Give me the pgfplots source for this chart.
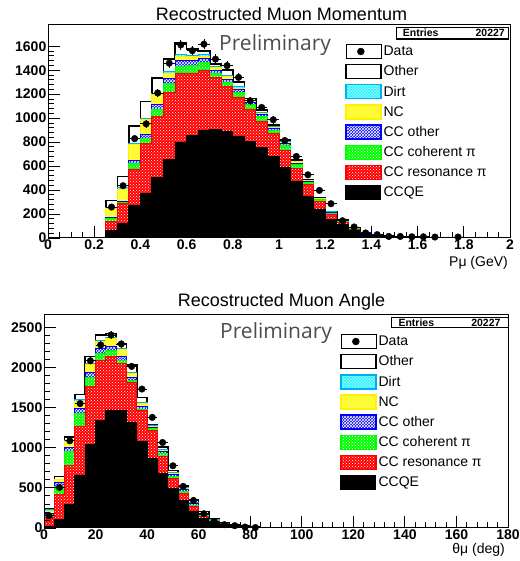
\documentclass[border=0pt]{standalone}
\usepackage{fontspec}
\setmainfont{Liberation Sans}
\newfontfamily\prelimfont{Open Sans}
\usepackage{pgfplots}
\pgfplotsset{compat=1.18}
\usepackage{pgfplotstable}
\usetikzlibrary{patterns}

% components per bin (left bin edge), momentum
\pgfplotstableread{
x    q   r   g   b   n   d   o
0.25 61  77  22  12  72  14  55
0.30 117 169 12  10  100 14  91
0.35 269 306 50  22  131 12  146
0.40 375 415 40  30  130 10  138
0.45 508 506 55  42  84  10  128
0.50 658 552 82  41  42  10  107
0.55 800 569 62  46  37  13  98
0.60 855 514 70  38  33  10  58
0.65 895 502 63  35  20  15  30
0.70 905 437 28  30  20  10  20
0.75 885 375 40  20  25  10  45
0.80 847 323 45  20  15  10  40
0.85 805 270 35  20  15  5   15
0.90 755 217 38  20  10  5   24
0.95 680 189 31  15  10  5   14
1.00 590 140 40  20  10  5   14
1.05 472 111 27  15  10  5   10
1.10 347 97  21  10  5   2   4
1.15 236 69  13  7   3   2   3
1.20 153 41  11  7   4   2   4
1.25 111 19  8   6   4   2   3
1.30 62  10  4   4   2   1   2
1.35 33  5   2   2   1   1   1
1.40 18  3   1   1   1   0   1
1.45 10  2   1   0   1   0   1
1.50 6   1   1   0   0   1   0
1.55 4   1   0   0   1   0   0
1.60 3   0   0   1   0   0   0
1.65 2   0   0   1   0   0   0
1.70 1   0   0   1   0   0   0
1.75 1   0   0   0   0   0   0
1.80 0   0   0   0   0   0   0
}\momtab
\pgfplotstableread{
x     d    e
0.275 258  16
0.325 436  21
0.375 829  29
0.425 952  31
0.475 1210 35
0.525 1458 38
0.575 1611 40
0.625 1563 40
0.675 1617 40
0.725 1492 39
0.775 1438 38
0.825 1340 37
0.875 1145 34
0.925 1089 33
0.975 986  31
1.025 813  29
1.075 680  26
1.125 527  23
1.175 397  20
1.225 286  17
1.275 144  12
1.325 92   10
1.375 42   6
1.425 28   5
1.475 13   4
1.525 13   4
1.575 10   3
1.625 10   3
1.675 8    3
1.775 8    3
}\momdata

% components per bin (left bin edge), angle
\pgfplotstableread{
x  q    r   g   b  n   d  o
0  15   115 30  20 26  19 11
4  103  311 104 45 37  10 32
8  298  477 178 47 77  13 42
12 650  615 165 60 90  15 67
16 1036 722 115 67 100 15 79
20 1340 747 89  63 82  14 69
24 1460 674 71  54 104 12 50
28 1460 588 33  53 84  12 70
32 1310 497 25  41 55  12 91
36 1077 388 15  32 43  10 59
40 862  358 20  15 15  10 10
44 684  207 34  28 12  10 33
48 489  124 27  23 17  10 27
52 344  91  20  21 14  10 26
56 207  62  16  17 8   10 32
60 116  28  8   10 8   10 27
64 70   15  3   4  3   5  10
68 45   7   2   2  2   2  6
72 25   5   2   1  1   1  3
76 15   3   1   0  1   0  2
80 8    2   0   1  0   0  1
84 4    1   0   1  0   0  1
88 2    1   0   0  0   0  1
92 1    0   0   1  0   0  0
96 0    0   0   0  0   0  0
}\angtab
\pgfplotstableread{
x  d    e
2  153  12
6  505  22
10 1086 33
14 1550 39
18 2083 46
22 2280 48
26 2404 49
30 2292 48
34 2013 45
38 1731 42
42 1378 37
46 1065 33
50 775  28
54 518  23
58 343  19
62 178  13
66 83   9
70 41   6
74 29   5
78 12   3
82 6    2
}\angdata

\tikzset{
  othst/.style={draw=black, fill=white, line width=1.6pt},
  dirtst/.style={draw=cyan, line width=1pt, fill=cyan!25!white, postaction={pattern=crosshatch, pattern color=cyan}},
  ncst/.style={draw=yellow, line width=1pt, fill=yellow!55!white, postaction={pattern=crosshatch, pattern color=yellow}},
  ccost/.style={draw=blue, line width=1pt, fill=blue, postaction={pattern=crosshatch, pattern color=white}},
  cohst/.style={draw=green, line width=1pt, fill=green, postaction={pattern=crosshatch dots, pattern color=white}},
  resst/.style={draw=red, line width=1pt, fill=red, postaction={pattern=crosshatch dots, pattern color=white}},
  qest/.style={draw=black, fill=black, line width=1pt},
}

\pgfplotsset{
  rootaxis/.style={
    scale only axis,
    axis on top,
    tick align=inside,
    tick pos=left,
    major tick length=12pt,
    minor tick length=6pt,
    tick style={black, line width=0.8pt},
    axis line style={black, line width=1pt},
    ticklabel style={font=\fontsize{14}{14}\selectfont\bfseries},
    yticklabel style={inner sep=1.5pt},
    xticklabel style={inner sep=2pt},
    /pgf/number format/assume math mode=true,
    /pgf/number format/1000 sep={},
    legend cell align=left,
    legend style={draw=none, fill=none, inner sep=0pt, outer sep=0pt,
      row sep=4.6pt, font=\fontsize{14}{14}\selectfont, anchor=north west},
  },
  boxleg/.style={legend image code/.code={\draw[##1] (0pt,-6.5pt) rectangle (30pt,6.5pt); \path (0pt,-7pt) rectangle (35pt,7pt);}},
  dotleg/.style={legend image code/.code={\fill[black] (15pt,0pt) circle (3.5pt); \path (0pt,-7pt) rectangle (35pt,7pt);}},
}

\begin{document}
\begin{tikzpicture}
\useasboundingbox (0pt,0pt) rectangle (519pt,561pt);

% ---------------- top: momentum ----------------
\begin{axis}[rootaxis,
  at={(48pt,323pt)}, anchor=south west,
  width=462pt, height=213pt,
  xmin=0, xmax=2, ymin=0, ymax=1777,
  xtick={0,0.2,0.4,0.6,0.8,1,1.2,1.4,1.6,1.8,2},
  xticklabels={0,0.2,0.4,0.6,0.8,1,1.2,1.4,1.6,1.8,2},
  minor x tick num=3,
  ytick={0,200,400,600,800,1000,1200,1400,1600},
  minor y tick num=4,
  legend style={at={(0.6429,0.911)}},
]
\addplot[const plot, othst, forget plot] table[x=x, y expr=\thisrow{q}+\thisrow{r}+\thisrow{g}+\thisrow{b}+\thisrow{n}+\thisrow{d}+\thisrow{o}] {\momtab} \closedcycle;
\addplot[const plot, dirtst, forget plot] table[x=x, y expr=\thisrow{q}+\thisrow{r}+\thisrow{g}+\thisrow{b}+\thisrow{n}+\thisrow{d}] {\momtab} \closedcycle;
\addplot[const plot, ncst, forget plot] table[x=x, y expr=\thisrow{q}+\thisrow{r}+\thisrow{g}+\thisrow{b}+\thisrow{n}] {\momtab} \closedcycle;
\addplot[const plot, ccost, forget plot] table[x=x, y expr=\thisrow{q}+\thisrow{r}+\thisrow{g}+\thisrow{b}] {\momtab} \closedcycle;
\addplot[const plot, cohst, forget plot] table[x=x, y expr=\thisrow{q}+\thisrow{r}+\thisrow{g}] {\momtab} \closedcycle;
\addplot[const plot, resst, forget plot] table[x=x, y expr=\thisrow{q}+\thisrow{r}] {\momtab} \closedcycle;
\addplot[const plot, qest, forget plot] table[x=x, y=q] {\momtab} \closedcycle;
\addplot[only marks, mark=*, mark size=3.3pt, black, forget plot,
  error bars/.cd, x dir=both, x fixed=0.025, y dir=both, y explicit,
  error bar style={line width=0.8pt, black}, error mark=none]
  table[x=x, y=d, y error=e] {\momdata};
\draw[line width=2pt] (rel axis cs:0,1) -- (rel axis cs:0,0) -- (rel axis cs:1,0);
\addlegendimage{dotleg}\addlegendentry{Data}
\addlegendimage{boxleg, othst}\addlegendentry{Other}
\addlegendimage{boxleg, dirtst, line width=1.5pt}\addlegendentry{Dirt}
\addlegendimage{boxleg, ncst, line width=1.5pt}\addlegendentry{NC}
\addlegendimage{boxleg, ccost, line width=1.5pt}\addlegendentry{CC other}
\addlegendimage{boxleg, cohst, line width=1.5pt}\addlegendentry{CC coherent π}
\addlegendimage{boxleg, resst, line width=1.5pt}\addlegendentry{CC resonance π}
\addlegendimage{boxleg, qest}\addlegendentry{CCQE}
\end{axis}

\node[font=\fontsize{18}{18}\selectfont, inner sep=0pt] at (281.5pt,547pt) {Recostructed Muon Momentum};
\node[font=\prelimfont\fontsize{21}{21}\selectfont, text=black!70, anchor=west, inner sep=0pt] at (219pt,516pt) {Preliminary};
\node[font=\fontsize{14}{14}\selectfont, anchor=east, inner sep=0pt] at (508pt,298.5pt) {Pμ (GeV)};
\draw[line width=1.3pt, fill=white] (396.7pt,522pt) rectangle (508.3pt,533.3pt);
\node[font=\fontsize{10.5}{10.5}\selectfont\bfseries, anchor=base west, inner sep=0pt] at (402.7pt,524.3pt) {Entries};
\node[font=\fontsize{10.5}{10.5}\selectfont\bfseries, anchor=base east, inner sep=0pt] at (505pt,524.3pt) {20227};

% ---------------- bottom: angle ----------------
\begin{axis}[rootaxis,
  at={(44pt,33pt)}, anchor=south west,
  width=464pt, height=213pt,
  xmin=0, xmax=180, ymin=0, ymax=2653,
  xtick={0,20,40,60,80,100,120,140,160,180},
  minor x tick num=4,
  ytick={0,500,1000,1500,2000,2500},
  minor y tick num=4,
  legend style={at={(0.638,0.911)}},
]
\addplot[const plot, othst, forget plot] table[x=x, y expr=\thisrow{q}+\thisrow{r}+\thisrow{g}+\thisrow{b}+\thisrow{n}+\thisrow{d}+\thisrow{o}] {\angtab} \closedcycle;
\addplot[const plot, dirtst, forget plot] table[x=x, y expr=\thisrow{q}+\thisrow{r}+\thisrow{g}+\thisrow{b}+\thisrow{n}+\thisrow{d}] {\angtab} \closedcycle;
\addplot[const plot, ncst, forget plot] table[x=x, y expr=\thisrow{q}+\thisrow{r}+\thisrow{g}+\thisrow{b}+\thisrow{n}] {\angtab} \closedcycle;
\addplot[const plot, ccost, forget plot] table[x=x, y expr=\thisrow{q}+\thisrow{r}+\thisrow{g}+\thisrow{b}] {\angtab} \closedcycle;
\addplot[const plot, cohst, forget plot] table[x=x, y expr=\thisrow{q}+\thisrow{r}+\thisrow{g}] {\angtab} \closedcycle;
\addplot[const plot, resst, forget plot] table[x=x, y expr=\thisrow{q}+\thisrow{r}] {\angtab} \closedcycle;
\addplot[const plot, qest, forget plot] table[x=x, y=q] {\angtab} \closedcycle;
\addplot[only marks, mark=*, mark size=3.3pt, black, forget plot,
  error bars/.cd, x dir=both, x fixed=2, y dir=both, y explicit,
  error bar style={line width=0.8pt, black}, error mark=none]
  table[x=x, y=d, y error=e] {\angdata};
\draw[line width=2pt] (rel axis cs:0,1) -- (rel axis cs:0,0) -- (rel axis cs:1,0);
\addlegendimage{dotleg}\addlegendentry{Data}
\addlegendimage{boxleg, othst}\addlegendentry{Other}
\addlegendimage{boxleg, dirtst, line width=1.5pt}\addlegendentry{Dirt}
\addlegendimage{boxleg, ncst, line width=1.5pt}\addlegendentry{NC}
\addlegendimage{boxleg, ccost, line width=1.5pt}\addlegendentry{CC other}
\addlegendimage{boxleg, cohst, line width=1.5pt}\addlegendentry{CC coherent π}
\addlegendimage{boxleg, resst, line width=1.5pt}\addlegendentry{CC resonance π}
\addlegendimage{boxleg, qest}\addlegendentry{CCQE}
\end{axis}

\node[font=\fontsize{18}{18}\selectfont, inner sep=0pt] at (281.5pt,259.5pt) {Recostructed Muon Angle};
\node[font=\prelimfont\fontsize{21}{21}\selectfont, text=black!70, anchor=west, inner sep=0pt] at (220pt,228pt) {Preliminary};
\node[font=\fontsize{14}{14}\selectfont, anchor=east, inner sep=0pt] at (505pt,11.5pt) {θμ (deg)};
\draw[line width=1.3pt, fill=white] (391.7pt,233.3pt) rectangle (508.3pt,243.7pt);
\node[font=\fontsize{10.5}{10.5}\selectfont\bfseries, anchor=base west, inner sep=0pt] at (398.3pt,234.3pt) {Entries};
\node[font=\fontsize{10.5}{10.5}\selectfont\bfseries, anchor=base east, inner sep=0pt] at (500.7pt,234.3pt) {20227};
\end{tikzpicture}
\end{document}
